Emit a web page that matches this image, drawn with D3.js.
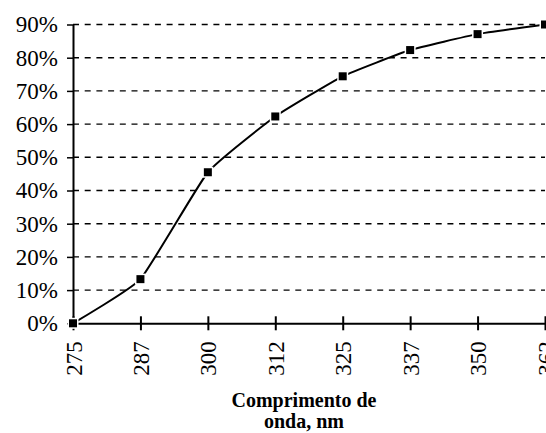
<!DOCTYPE html>
<html>
<head>
<meta charset="utf-8">
<style>
  body { margin: 0; background: #fff; }
  svg { display: block; font-family: "Liberation Serif", "Times New Roman", serif; }
</style>
</head>
<body>
<script src="https://cdnjs.cloudflare.com/ajax/libs/d3/7.8.5/d3.min.js"></script>
<script>
// comprimento de onda (nm) e valor acumulado
var wavelengths = ['275', '287', '300', '312', '325', '337', '350', '362'];
var values = [0, 0.133, 0.455, 0.623, 0.744, 0.823, 0.871, 0.90];
var yTicks = [0, 0.1, 0.2, 0.3, 0.4, 0.5, 0.6, 0.7, 0.8, 0.9];

var W = 546, H = 433;
var plotLeft = 73, plotRight = 545, plotTop = 24.5, plotBottom = 323.3;

var svg = d3.select('body').append('svg')
  .attr('width', W)
  .attr('height', H);

var x = d3.scalePoint()
  .domain(wavelengths)
  .range([plotLeft, plotRight])
  .padding(0);

var y = d3.scaleLinear()
  .domain([0, 0.9])
  .range([plotBottom, plotTop]);

// linhas de grade tracejadas
svg.append('g')
  .selectAll('line')
  .data(yTicks.filter(d => d > 0))
  .enter().append('line')
  .attr('x1', plotLeft)
  .attr('x2', plotRight)
  .attr('y1', d => y(d))
  .attr('y2', d => y(d))
  .attr('stroke', '#000')
  .attr('stroke-width', 1.4)
  .attr('stroke-dasharray', '6,5.7');

// eixo Y
var yAxis = svg.append('g')
  .attr('transform', 'translate(' + plotLeft + ',0)')
  .call(d3.axisLeft(y)
    .tickValues(yTicks)
    .tickFormat(d3.format('.0%'))
    .tickSize(6)
    .tickSizeOuter(0)
    .tickPadding(9));
yAxis.select('.domain').attr('stroke', '#000').attr('stroke-width', 2);
yAxis.selectAll('.tick line').attr('stroke', '#000').attr('stroke-width', 1.5);
yAxis.selectAll('text')
  .attr('font-family', '"Liberation Serif", serif')
  .attr('font-size', 23)
  .attr('fill', '#000');

// eixo X
var xAxis = svg.append('g')
  .attr('transform', 'translate(0,' + plotBottom + ')')
  .call(d3.axisBottom(x).tickSize(7).tickSizeOuter(0));
xAxis.select('.domain').attr('stroke', '#000').attr('stroke-width', 2);
xAxis.selectAll('.tick line')
  .attr('y1', -7)
  .attr('stroke', '#000')
  .attr('stroke-width', 2);
xAxis.selectAll('text')
  .attr('font-family', '"Liberation Serif", serif')
  .attr('font-size', 23)
  .attr('fill', '#000')
  .attr('text-anchor', 'end')
  .attr('transform', 'translate(0,18) rotate(-90)')
  .attr('x', 0)
  .attr('y', 0)
  .attr('dy', '0.35em');

// linha levemente suavizada
var line = d3.line()
  .x((d, i) => x(wavelengths[i]))
  .y(d => y(d))
  .curve(d3.curveCardinal.tension(0.6));

svg.append('path')
  .datum(values)
  .attr('d', line)
  .attr('fill', 'none')
  .attr('stroke', '#000')
  .attr('stroke-width', 2);

// marcadores
svg.append('g')
  .selectAll('rect')
  .data(values)
  .enter().append('rect')
  .attr('x', (d, i) => x(wavelengths[i]) - 4)
  .attr('y', d => y(d) - 4)
  .attr('width', 8)
  .attr('height', 8)
  .attr('fill', '#000')
  .attr('stroke', '#fff')
  .attr('stroke-width', 3)
  .attr('paint-order', 'stroke');

// titulo do eixo
var title = svg.append('text')
  .attr('x', 304)
  .attr('y', 407)
  .attr('text-anchor', 'middle')
  .attr('font-family', '"Liberation Serif", serif')
  .attr('font-weight', 'bold')
  .attr('font-size', 20)
  .attr('fill', '#000');
title.append('tspan').attr('x', 304).text('Comprimento de');
title.append('tspan').attr('x', 304).attr('dy', 21).text('onda, nm');
</script>
</body>
</html>
